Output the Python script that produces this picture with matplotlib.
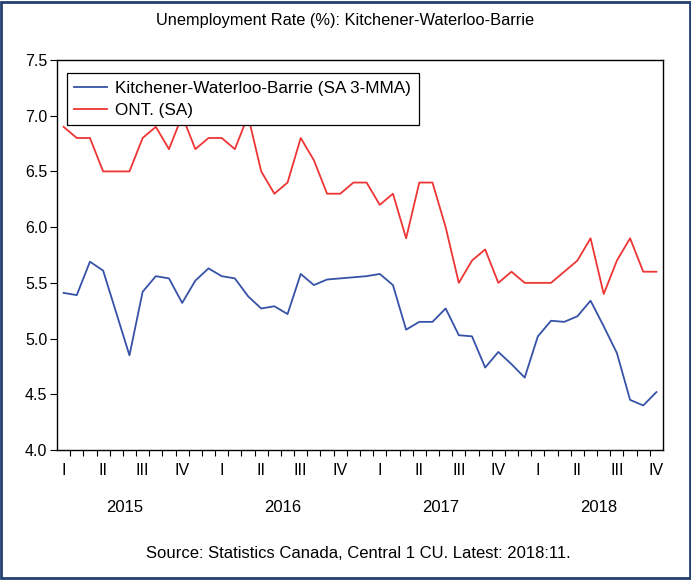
import matplotlib
matplotlib.use("Agg")
import matplotlib.pyplot as plt
import matplotlib.transforms as mtransforms
from matplotlib.patches import Rectangle
import numpy as np
import pandas as pd

plt.rcParams['font.family'] = ['Liberation Sans', 'DejaVu Sans']

# monthly observations, Jan 2015 - Oct 2018
months = pd.period_range('2015-01', '2018-10', freq='M')

kwb = [5.41, 5.39, 5.69, 5.61, 5.23, 4.85, 5.42, 5.56, 5.54, 5.32, 5.52, 5.63,
       5.56, 5.54, 5.38, 5.27, 5.29, 5.22, 5.58, 5.48, 5.53, 5.54, 5.55, 5.56,
       5.58, 5.48, 5.08, 5.15, 5.15, 5.27, 5.03, 5.02, 4.74, 4.88, 4.77, 4.65,
       5.02, 5.16, 5.15, 5.20, 5.34, 5.11, 4.87, 4.45, 4.40, 4.52]
ont = [6.9, 6.8, 6.8, 6.5, 6.5, 6.5, 6.8, 6.9, 6.7, 7.0, 6.7, 6.8,
       6.8, 6.7, 7.0, 6.5, 6.3, 6.4, 6.8, 6.6, 6.3, 6.3, 6.4, 6.4,
       6.2, 6.3, 5.9, 6.4, 6.4, 6.0, 5.5, 5.7, 5.8, 5.5, 5.6, 5.5,
       5.5, 5.5, 5.6, 5.7, 5.9, 5.4, 5.7, 5.9, 5.6, 5.6]
quarter_names = ['I', 'II', 'III', 'IV']
years = ['2015', '2016', '2017', '2018']

x = np.arange(len(months))

fig = plt.figure(figsize=(6.91, 5.8), dpi=100)
ax = fig.add_axes([0.0825, 0.2241, 0.877, 0.6725])

ax.plot(x, kwb, color='#3652A8', lw=1.3, label='Kitchener-Waterloo-Barrie (SA 3-MMA)')
ax.plot(x, ont, color='#EE3535', lw=1.3, label='ONT. (SA)')

ax.set_xlim(-0.5, len(months) - 0.5)
ax.set_ylim(4.0, 7.5)
ax.set_yticks(np.arange(4.0, 7.51, 0.5))
ax.set_yticklabels(['%.1f' % v for v in np.arange(4.0, 7.51, 0.5)], fontsize=11.5)
ax.tick_params(axis='y', direction='out', length=5, width=0.8, pad=2)

# month boundaries as ticks, quarter names as labels
ax.set_xticks(np.arange(0.5, len(months) - 0.5, 1.0))
ax.set_xticklabels([])
ax.tick_params(axis='x', which='major', direction='out', length=4, width=0.8)
q_pos = [i for i, m in enumerate(months) if m.month in (1, 4, 7, 10)]
ax.set_xticks(q_pos, minor=True)
ax.set_xticklabels([quarter_names[(months[i].month - 1) // 3] for i in q_pos],
                   minor=True, fontsize=11.5)
ax.tick_params(axis='x', which='minor', length=0, pad=9)

trans = mtransforms.blended_transform_factory(ax.transData, fig.transFigure)
for k, yr in enumerate(years):
    ax.text(12 * k + 4.6, 1 - 508 / 580, yr, transform=trans, ha='center', va='center',
            fontsize=12)

for s in ax.spines.values():
    s.set_linewidth(1.0)

leg = ax.legend(loc='upper left', bbox_to_anchor=(0.016, 0.967), fontsize=12.3,
                frameon=True, fancybox=False, edgecolor='black', framealpha=1,
                borderpad=0.45, handlelength=1.9, handletextpad=0.5, labelspacing=0.42,
                borderaxespad=0)
leg.get_frame().set_linewidth(0.9)

fig.text(0.5, 1 - 20 / 580, 'Unemployment Rate (%): Kitchener-Waterloo-Barrie',
         ha='center', va='center', fontsize=11.8)
fig.text(358 / 691, 1 - 553 / 580, 'Source: Statistics Canada, Central 1 CU. Latest: 2018:11.',
         ha='center', va='center', fontsize=12)

fig.patches.append(Rectangle((0.002, 0.003), 0.996, 0.994, transform=fig.transFigure,
                             fill=False, edgecolor='#24406E', lw=2))

fig.savefig('out.png', dpi=100)
